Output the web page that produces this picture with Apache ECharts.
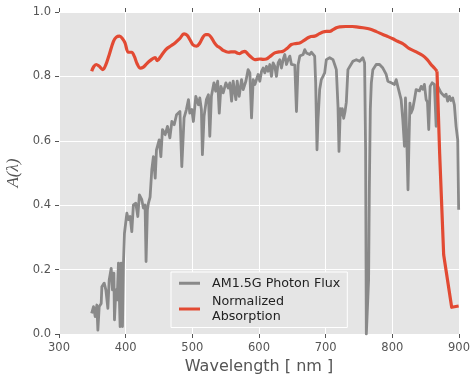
<!DOCTYPE html>
<html>
<head>
<meta charset="utf-8">
<script src="https://cdn.jsdelivr.net/npm/echarts@6/dist/echarts.min.js"></script>
<style>html,body{margin:0;padding:0;background:#fff;}#c{width:470px;height:374px;}</style>
</head>
<body>
<div id="c"></div>
<script>
// ---- data ----
const seriesNames = ['AM1.5G Photon Flux', 'Normalized\nAbsorption'];

const fluxWavelength = [349,351.8,354.3,356.8,358.3,360.3,363.3,364.3,367.8,370.3,373.3,375.3,378.3,380.2,382.3,383.2,385.3,387.2,389.2,391.7,393.2,395.2,396.7,398.2,401.8,404.2,406.7,409.2,411.6,415.2,418.2,420.6,424.2,426.6,429.1,430.6,432.6,434.1,436.6,439.2,441.6,444.3,446.2,450.3,452.8,455.2,459.3,462.7,466.3,469.3,472.8,476.3,481.4,484.2,487.6,491.1,494.2,496.2,499.2,501.6,505.2,509.2,511.2,513.6,515.1,517.6,521.1,524.1,526.2,528.6,532.4,535,538,540.4,542.9,546.3,550.3,553.8,556.3,558.9,561.3,565.3,567.3,570.3,573.8,576.3,580.3,583.7,586.3,588.8,591.3,593.8,598.7,601.2,603.8,606.2,608.7,611.2,613.7,616.2,618.7,621.2,623.7,626.2,628.7,631.2,633.7,636.2,638.7,641.2,643.7,646.2,648.7,651.2,653.7,656.2,658.7,661.2,666.2,668.6,671.1,673.6,676.1,678.5,681,683.5,685,687,688.5,691,693.5,696,698.5,701,706,711,713.5,716,718.5,720,722,723.5,725,727,729,731,733.4,736,740.9,746,751,755.8,758.4,759.9,761,764.4,765.5,767,768.5,770.8,775.8,780.8,785.8,790.8,793.3,795.8,798.3,800.7,803.2,805.8,808.2,810.7,813.2,815.7,818.2,819.7,821.7,823.5,825,826.4,827.9,830.7,833.2,835.7,838.2,840.7,843.2,845.7,848.1,850.7,852.7,854.6,856.7,859.7,863.1,865.7,868.1,870.7,873.1,875.6,878.1,880.6,883,885.6,888,890.6,893,895.6,898.1,899.5];
const fluxValue = [0.064,0.085,0.054,0.090,0.012,0.085,0.095,0.147,0.158,0.137,0.080,0.168,0.204,0.137,0.189,0.044,0.137,0.106,0.220,0.023,0.220,0.023,0.220,0.313,0.375,0.355,0.365,0.318,0.401,0.406,0.365,0.432,0.417,0.391,0.401,0.225,0.386,0.406,0.425,0.510,0.551,0.484,0.572,0.603,0.551,0.635,0.619,0.645,0.609,0.660,0.650,0.681,0.691,0.520,0.671,0.697,0.728,0.686,0.697,0.660,0.738,0.712,0.733,0.697,0.557,0.676,0.728,0.743,0.614,0.738,0.780,0.754,0.785,0.686,0.769,0.749,0.780,0.764,0.780,0.723,0.785,0.728,0.785,0.738,0.790,0.759,0.785,0.821,0.811,0.671,0.790,0.775,0.806,0.785,0.816,0.826,0.811,0.831,0.816,0.837,0.800,0.842,0.831,0.800,0.842,0.852,0.826,0.852,0.868,0.837,0.852,0.863,0.837,0.842,0.835,0.691,0.837,0.863,0.868,0.883,0.873,0.878,0.868,0.875,0.873,0.863,0.780,0.572,0.666,0.759,0.790,0.800,0.811,0.852,0.858,0.852,0.837,0.821,0.707,0.567,0.700,0.680,0.700,0.670,0.690,0.720,0.821,0.818,0.847,0.852,0.847,0.858,0.842,0.572,0.0,0.168,0.450,0.700,0.780,0.821,0.837,0.837,0.826,0.806,0.785,0.790,0.780,0.785,0.775,0.790,0.769,0.775,0.728,0.666,0.583,0.733,0.603,0.448,0.600,0.717,0.686,0.700,0.728,0.759,0.764,0.755,0.769,0.760,0.775,0.728,0.720,0.635,0.769,0.780,0.775,0.645,0.769,0.759,0.749,0.755,0.738,0.745,0.723,0.738,0.725,0.733,0.712,0.645,0.603,0.386];

const absWavelength = [349,352,355.8,360,365.7,370,375,381.7,386,390.7,395,399,404,409,413,417,421.6,426,431,436.6,444,447.5,452,456,461.6,468,474,481,487.5,492,497,501,506.5,511,516,520,523.8,528,533,537,541.4,547,553.8,558,563.8,568,571.3,574.5,578.8,583,588,593.7,601.2,606,611,616,623.7,630,636,642,648.6,655,661,667,673.5,678,683.5,690,696,701,706,711,716,721,730,740,746,756,766,776,785.7,793,800.7,808,815.6,820,825.6,835,845.6,852,858,863,867];
const absValue = [0.816,0.830,0.837,0.832,0.821,0.835,0.865,0.909,0.922,0.925,0.918,0.904,0.875,0.875,0.862,0.840,0.826,0.828,0.838,0.849,0.858,0.849,0.860,0.872,0.886,0.895,0.904,0.917,0.932,0.928,0.912,0.898,0.894,0.903,0.922,0.930,0.930,0.922,0.905,0.895,0.889,0.880,0.875,0.876,0.876,0.872,0.871,0.875,0.878,0.870,0.860,0.852,0.854,0.853,0.854,0.861,0.873,0.876,0.878,0.887,0.899,0.902,0.904,0.911,0.920,0.924,0.925,0.932,0.938,0.940,0.940,0.945,0.951,0.954,0.955,0.955,0.954,0.951,0.947,0.939,0.930,0.924,0.917,0.909,0.902,0.895,0.886,0.877,0.865,0.853,0.837,0.826,0.816];
const absTailWavelength = [867,871,877,889,899.5];
const absTailValue = [0.816,0.560,0.246,0.083,0.087];

const xMin = 300, xMax = 900, xStep = 100;
const yMin = 0, yMax = 1.0, yStep = 0.2;

// ---- chart ----
const pairs = (xs, ys) => xs.map((x, i) => [x, ys[i]]);
const chart = echarts.init(document.getElementById('c'), null, {renderer: 'canvas'});
const tickCol = '#555555';
const lblFont = 'DejaVu Sans';
chart.setOption({
  animation: false,
  backgroundColor: '#ffffff',
  grid: {left: 59, right: 11, top: 12, bottom: 40, show: true, backgroundColor: '#E5E5E5', borderWidth: 0,
    containLabel: false, outerBoundsMode: 'none'},
  xAxis: [{
    type: 'value', min: xMin, max: xMax, interval: xStep, position: 'bottom',
    name: 'Wavelength [ nm ]', nameLocation: 'middle', nameGap: 21,
    nameTextStyle: {fontFamily: lblFont, fontSize: 16, color: tickCol},
    axisLine: {show: false},
    axisTick: {show: true, inside: false, length: 4, lineStyle: {color: tickCol}},
    axisLabel: {fontFamily: lblFont, fontSize: 11.5, color: tickCol, margin: 8},
    splitLine: {show: true, lineStyle: {color: '#ffffff', width: 1}}
  }, {
    type: 'value', min: xMin, max: xMax, interval: xStep, position: 'top',
    axisLine: {show: false},
    axisTick: {show: true, inside: false, length: 4, lineStyle: {color: tickCol}},
    axisLabel: {show: false},
    splitLine: {show: false}
  }],
  yAxis: {
    type: 'value', min: yMin, max: yMax, interval: yStep,
    name: 'A(λ)', nameLocation: 'middle', nameGap: 35, nameRotate: 90,
    nameTextStyle: {fontFamily: 'Liberation Serif', fontStyle: 'italic', fontSize: 17, color: tickCol},
    axisLine: {show: false},
    axisTick: {show: true, inside: false, length: 4, lineStyle: {color: tickCol}},
    axisLabel: {fontFamily: lblFont, fontSize: 11.5, color: tickCol, margin: 8,
      formatter: v => v.toFixed(1)},
    splitLine: {show: true, lineStyle: {color: '#ffffff', width: 1}}
  },
  legend: {
    orient: 'vertical', left: 171, top: 272,
    padding: [4, 7, 4, 8], itemGap: 4, itemWidth: 21, itemHeight: 3, icon: 'rect',
    backgroundColor: '#E5E5E5', borderColor: '#ffffff', borderWidth: 1, borderRadius: 0,
    textStyle: {fontFamily: lblFont, fontSize: 12.7, color: '#222222', lineHeight: 14.5, padding: [0, 0, 0, 7]},
    data: seriesNames
  },
  series: [{
    name: seriesNames[0], type: 'line', data: pairs(fluxWavelength, fluxValue),
    showSymbol: false, symbol: 'none',
    lineStyle: {color: '#898989', width: 2.8, join: 'round'},
    itemStyle: {color: '#898989'}
  }, {
    name: seriesNames[1], type: 'line', data: pairs(absWavelength, absValue),
    showSymbol: false, symbol: 'none', smooth: 0.35,
    lineStyle: {color: '#E24A33', width: 3.2},
    itemStyle: {color: '#E24A33'}
  }, {
    name: seriesNames[1], type: 'line', data: pairs(absTailWavelength, absTailValue),
    showSymbol: false, symbol: 'none',
    lineStyle: {color: '#E24A33', width: 3.2, join: 'round'},
    itemStyle: {color: '#E24A33'}
  }]
});
</script>
</body>
</html>
